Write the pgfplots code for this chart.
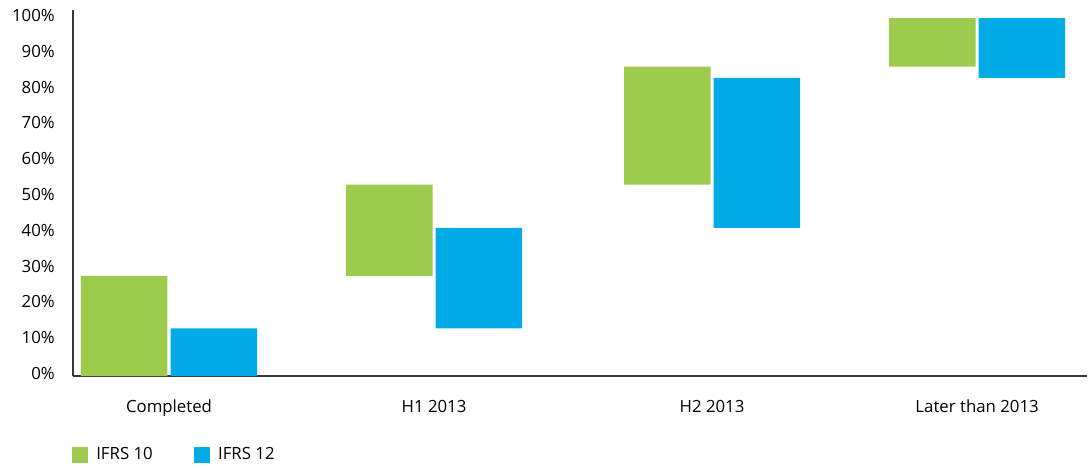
\documentclass[border=0pt]{standalone}
\usepackage{fontspec}
\setmainfont{Open Sans}
\usepackage{pgfplots}
\pgfplotsset{compat=1.18}
\definecolor{ifrsgreen}{RGB}{157,203,77}
\definecolor{ifrsblue}{RGB}{0,171,230}
\definecolor{axisgray}{RGB}{55,55,55}
\pgfplotsset{common/.style={
  scale only axis, width=760.5pt, height=274.5pt,
  at={(0,0)}, anchor=south west,
  xmin=-0.3564, xmax=3.408, ymin=0, ymax=102.3,
  ybar stacked, bar width=0.3212,
  clip=false,
}}
\begin{document}
\fontsize{12.6pt}{15pt}\selectfont
\begin{tikzpicture}
\useasboundingbox (-54.75pt,-69pt) rectangle (763.5pt,282pt);
% IFRS 10 (green)
\begin{axis}[common,
  axis lines*=left,
  axis line style={axisgray, line width=1.1pt, -},
  xtick={0,0.984,2.016,3},
  xticklabels={Completed,H1 2013,H2 2013,Later than 2013},
  ytick={0,10,...,100},
  yticklabel={\pgfmathprintnumber{\tick}\%},
  /pgf/number format/assume math mode=true,
  major tick length=0pt,
  xticklabel style={inner sep=0pt, text height=9.5pt, text depth=2.5pt, yshift=-17.7pt, text=black},
  yticklabel style={inner sep=0pt, xshift=-13.5pt, yshift=2pt, text=black},
  legend style={at={(0,0)}, anchor=west, xshift=-0.75pt, yshift=-59.25pt,
    draw=none, fill=none, inner sep=0pt, legend columns=2,
    nodes={inner sep=0pt, anchor=west, text=black},
    /tikz/every odd column/.append style={column sep=6pt},
    /tikz/every even column/.append style={column sep=31pt}},
  legend image code/.code={\fill[#1] (0pt,-6pt) rectangle (12pt,6pt);},
]
\addplot[draw=none, fill=none, bar shift=-0.1662, forget plot]
  coordinates {(0,0) (0.984,28) (2.016,53.5) (3,86.5)};
\addplot[draw=none, fill=ifrsgreen, bar shift=-0.1662]
  coordinates {(0,28) (0.984,25.5) (2.016,33) (3,13.5)};
\addlegendentry{IFRS 10}
\addlegendimage{draw=none, fill=ifrsblue}
\addlegendentry{IFRS 12}
\end{axis}
% IFRS 12 (blue)
\begin{axis}[common, hide axis]
\addplot[draw=none, fill=none, bar shift=0.1662, forget plot]
  coordinates {(0,0) (0.984,13.3) (2.016,41.4) (3,83.3)};
\addplot[draw=none, fill=ifrsblue, bar shift=0.1662]
  coordinates {(0,13.3) (0.984,28.1) (2.016,41.9) (3,16.7)};
\end{axis}
\end{tikzpicture}
\end{document}
